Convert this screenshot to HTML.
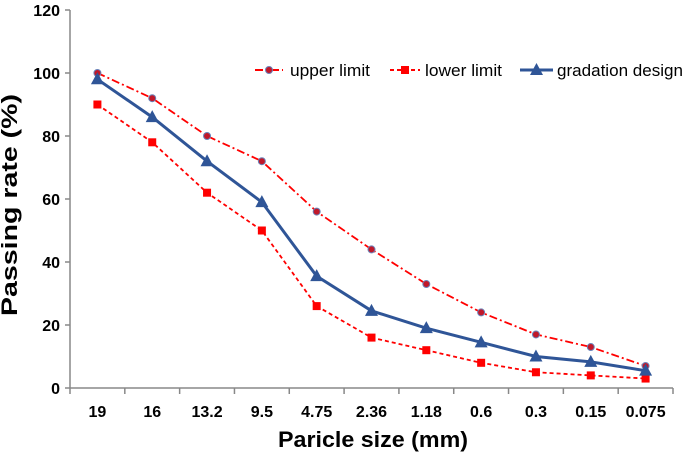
<!DOCTYPE html>
<html><head><meta charset="utf-8"><style>
body{margin:0;background:#fff}
svg{font-family:"Liberation Sans",Arial,sans-serif}
</style></head><body>
<svg id="c" width="685" height="455" viewBox="0 0 685 455">
<g id="axes"></g><g id="series"></g>
<text x="17" y="205" transform="rotate(-90 17 205)" text-anchor="middle" font-size="22" font-weight="bold" textLength="222" lengthAdjust="spacingAndGlyphs">Passing rate (%)</text>
<text x="373" y="447" text-anchor="middle" font-size="22" font-weight="bold" textLength="190" lengthAdjust="spacingAndGlyphs">Paricle size (mm)</text>
<g>
<g>
<line x1="255" y1="70" x2="283" y2="70" stroke="#f00" stroke-width="2" stroke-dasharray="8,3,2,3"/>
<circle cx="269" cy="70" r="3.5" fill="#c0182a" stroke="#6a82b8" stroke-width="1"/>
<text x="290" y="76" font-size="17" textLength="80" lengthAdjust="spacingAndGlyphs">upper limit</text></g>
<g>
<line x1="390" y1="70" x2="420" y2="70" stroke="#f00" stroke-width="2" stroke-dasharray="4,3"/>
<rect x="401" y="66" width="8" height="8" fill="#f00"/>
<text x="425" y="76" font-size="17" textLength="77" lengthAdjust="spacingAndGlyphs">lower limit</text></g>
<g>
<line x1="520" y1="70" x2="553" y2="70" stroke="#2f5597" stroke-width="3"/>
<polygon points="536.5,63 543,75 530,75" fill="#2f5597"/>
<text x="557" y="76" font-size="17" textLength="126" lengthAdjust="spacingAndGlyphs">gradation design</text></g>
</g>
</svg>
<script>
const categories=["19","16","13.2","9.5","4.75","2.36","1.18","0.6","0.3","0.15","0.075"];
const upperLimit=[100,92,80,72,56,44,33,24,17,13,7];
const lowerLimit=[90,78,62,50,26,16,12,8,5,4,3];
const gradationDesign=[98,86,72,59,35.5,24.5,19,14.5,10,8.3,5.5];
const yTicks=[0,20,40,60,80,100,120];
const NS="http://www.w3.org/2000/svg";
const x0=70,x1=673,y0=388,y1=10;
const band=(x1-x0)/categories.length;
const xs=i=>x0+band*(i+0.5);
const ys=v=>y0-(v/120)*(y0-y1);
function mk(t,a,p){const e=document.createElementNS(NS,t);for(const k in a)e.setAttribute(k,a[k]);p.appendChild(e);return e;}
const ax=document.getElementById('axes');
let l=mk('line',{x1:x0,y1:y1,x2:x0,y2:y0,stroke:'#888','stroke-width':1.5},ax);


l=mk('line',{x1:x0,y1:y0,x2:x1,y2:y0,stroke:'#888','stroke-width':1.5},ax);


yTicks.forEach(v=>{
 mk('line',{x1:x0-5,y1:ys(v),x2:x0,y2:ys(v),stroke:'#888','stroke-width':1.5},ax);
 const t=mk('text',{x:x0-10,y:ys(v)+6,'text-anchor':'end','font-size':16,'font-weight':'bold'},ax);
 t.textContent=v;
 
 
});
for(let i=0;i<=categories.length;i++)mk('line',{x1:x0+band*i,y1:y0,x2:x0+band*i,y2:y0+6,stroke:'#888','stroke-width':1.5},ax);
categories.forEach((c,i)=>{
 const t=mk('text',{x:xs(i),y:y0+29,'text-anchor':'middle','font-size':16,'font-weight':'bold'},ax);
 t.textContent=c;
 
 
});
const sg=document.getElementById('series');
function line(data,color,w,dash,name){
 const p=mk('polyline',{points:data.map((v,i)=>xs(i)+','+ys(v)).join(' '),fill:'none',stroke:color,'stroke-width':w,'stroke-dasharray':dash},sg);
 
 
}
line(upperLimit,'#f00',1.8,'8,3,2,3','upper-limit-line');
line(lowerLimit,'#f00',1.8,'4,3','lower-limit-line');
line(gradationDesign,'#2f5597',3,'','gradation-design-line');
upperLimit.forEach((v,i)=>{const c=mk('circle',{cx:xs(i),cy:ys(v),r:3.5,fill:'#c0182a',stroke:'#6a82b8','stroke-width':1},sg);
 
 });
lowerLimit.forEach((v,i)=>{const r=mk('rect',{x:xs(i)-4,y:ys(v)-4,width:8,height:8,fill:'#f00'},sg);
 
 });
gradationDesign.forEach((v,i)=>{const x=xs(i),y=ys(v);const p=mk('polygon',{points:`${x},${y-7} ${x+6.5},${y+5} ${x-6.5},${y+5}`,fill:'#2f5597'},sg);
 
 });
</script>
</body></html>
